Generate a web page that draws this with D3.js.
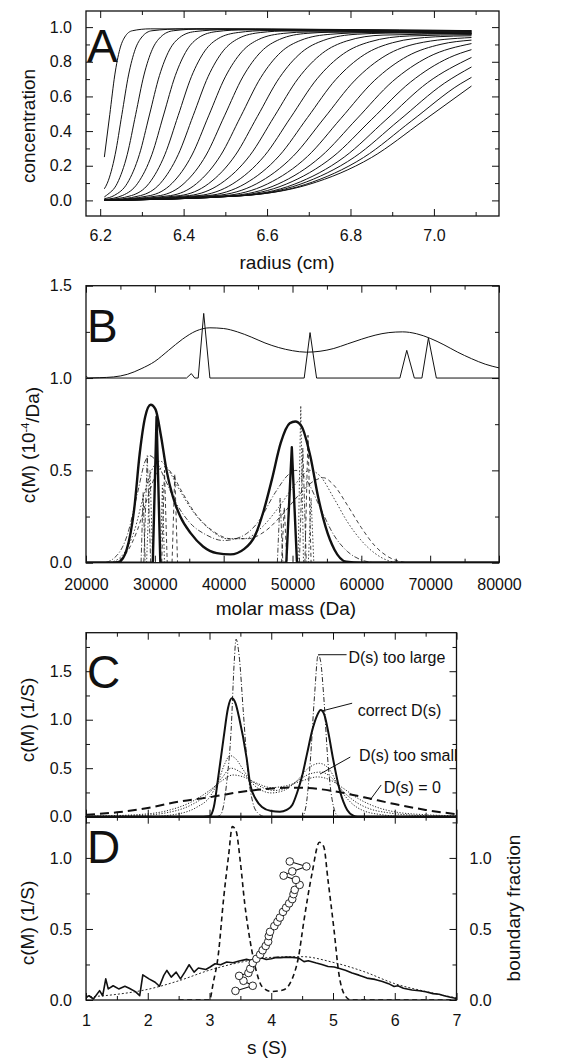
<!DOCTYPE html>
<html>
  <head>
    <meta charset="utf-8">
    <title>Sedimentation profiles and c(M) / c(s) distributions</title>
    <script src="https://cdn.jsdelivr.net/npm/d3@7"></script>
    <style>
      body { margin: 0; background: #fff; }
      svg text { font-family: "Liberation Sans", Arial, Helvetica, sans-serif; fill: #111; }
    </style>
  </head>
  <body>
    <script>
      // ---- panel A: radial scans (radius cm, concentration) ----
      var radialScans = [
        [[6.21,0.25],[6.223,0.495],[6.235,0.724],[6.247,0.872],[6.259,0.943],[6.277,0.979],[6.32,0.99],[6.7,0.985],[7.09,0.98]],
        [[6.21,0.067],[6.217,0.099],[6.236,0.266],[6.252,0.495],[6.268,0.724],[6.284,0.872],[6.3,0.943],[6.324,0.979],[6.4,0.99],[7.09,0.98]],
        [[6.21,0.02],[6.215,0.029],[6.241,0.099],[6.265,0.266],[6.285,0.495],[6.305,0.724],[6.325,0.872],[6.345,0.943],[6.375,0.979],[6.45,0.99],[7.09,0.975]],
        [[6.21,0.01],[6.234,0.029],[6.265,0.099],[6.294,0.265],[6.318,0.493],[6.342,0.72],[6.366,0.868],[6.39,0.939],[6.426,0.974],[6.5,0.985],[7.09,0.975]],
        [[6.21,0.005],[6.254,0.029],[6.29,0.099],[6.324,0.265],[6.352,0.493],[6.38,0.72],[6.408,0.868],[6.436,0.939],[6.478,0.974],[6.55,0.985],[7.09,0.97]],
        [[6.21,0.003],[6.275,0.028],[6.317,0.098],[6.355,0.264],[6.387,0.49],[6.419,0.716],[6.451,0.863],[6.483,0.934],[6.531,0.969],[6.6,0.98],[7.09,0.97]],
        [[6.21,0],[6.297,0.028],[6.344,0.098],[6.387,0.264],[6.423,0.49],[6.459,0.716],[6.495,0.863],[6.531,0.934],[6.585,0.969],[6.65,0.978],[7.09,0.965]],
        [[6.21,0],[6.32,0.028],[6.372,0.098],[6.42,0.262],[6.46,0.488],[6.5,0.713],[6.54,0.859],[6.58,0.929],[6.64,0.964],[6.7,0.972],[7.09,0.965]],
        [[6.21,0],[6.344,0.028],[6.401,0.098],[6.454,0.262],[6.498,0.488],[6.542,0.713],[6.586,0.859],[6.63,0.929],[6.696,0.964],[6.8,0.973],[7.09,0.96]],
        [[6.21,0],[6.369,0.028],[6.431,0.097],[6.489,0.261],[6.537,0.485],[6.585,0.709],[6.633,0.855],[6.681,0.924],[6.753,0.959],[6.85,0.968],[7.09,0.96]],
        [[6.21,0],[6.392,0.028],[6.46,0.097],[6.524,0.261],[6.577,0.485],[6.63,0.709],[6.683,0.855],[6.736,0.924],[6.816,0.959],[6.95,0.968],[7.09,0.965]],
        [[6.21,0],[6.414,0.028],[6.489,0.097],[6.559,0.26],[6.617,0.483],[6.675,0.705],[6.733,0.85],[6.791,0.92],[6.878,0.954],[7.09,0.962]],
        [[6.21,0],[6.437,0.028],[6.518,0.096],[6.594,0.258],[6.657,0.48],[6.72,0.702],[6.783,0.846],[6.846,0.915],[6.941,0.949],[7.09,0.956]],
        [[6.21,0],[6.459,0.028],[6.547,0.096],[6.629,0.257],[6.697,0.478],[6.765,0.698],[6.833,0.841],[6.901,0.91],[7.003,0.944],[7.09,0.95]],
        [[6.21,0],[6.478,0.028],[6.574,0.095],[6.663,0.256],[6.737,0.475],[6.811,0.694],[6.885,0.837],[6.959,0.905],[7.09,0.94]],
        [[6.21,0],[6.497,0.027],[6.601,0.095],[6.697,0.254],[6.777,0.473],[6.857,0.691],[6.937,0.833],[7.017,0.901],[7.09,0.925]],
        [[6.21,0],[6.514,0.027],[6.626,0.094],[6.729,0.253],[6.815,0.47],[6.901,0.687],[6.987,0.828],[7.09,0.905]],
        [[6.21,0],[6.526,0.027],[6.646,0.094],[6.758,0.252],[6.851,0.468],[6.944,0.683],[7.037,0.824],[7.09,0.87]],
        [[6.21,0],[6.535,0.027],[6.665,0.093],[6.785,0.25],[6.885,0.465],[6.985,0.68],[7.09,0.825]],
        [[6.21,0],[6.539,0.027],[6.679,0.093],[6.809,0.249],[6.917,0.463],[7.025,0.676],[7.09,0.77]],
        [[6.21,0],[6.541,0.027],[6.692,0.092],[6.831,0.247],[6.947,0.46],[7.063,0.672],[7.09,0.71]],
        [[6.21,0],[6.538,0.027],[6.7,0.092],[6.85,0.247],[6.975,0.46],[7.09,0.66]]
      ];

      // ---- panel B: c(M) in 1e-4/Da vs molar mass (Da) ----
      // upper traces are drawn offset by +1.0
      var bOffset = 1.0;
      var bBroad = [[20000,0.012],[20400,0],[22000,0.002],[24000,0.006],[26000,0.02],[28000,0.05],[30000,0.09],[32000,0.15],
        [34000,0.21],[36000,0.255],[38000,0.272],[40000,0.268],[42000,0.25],[44000,0.222],[46000,0.19],[48000,0.165],
        [50000,0.148],[52000,0.14],[54000,0.145],[56000,0.16],[58000,0.185],[60000,0.21],[62000,0.232],[64000,0.246],
        [66000,0.25],[68000,0.24],[70000,0.215],[72000,0.18],[74000,0.14],[76000,0.105],[78000,0.075],[80000,0.055]];
      var bDiscrete = [[20000,0],[34600,0],[35300,0.024],[35800,0],[36300,0],[37100,0.35],[38000,0],[51700,0],[52550,0.246],
        [53500,0],[65600,0],[66600,0.15],[67700,0],[68800,0],[69750,0.217],[70900,0],[80000,0]];
      var bCorrect = [[20000,0],[24000,0],[24800,0.005],[25900,0.07],[27000,0.29],[27800,0.59],[28600,0.79],[29400,0.855],
        [30100,0.83],[30900,0.685],[31700,0.5],[32600,0.36],[33700,0.25],[35200,0.16],[37000,0.088],[39000,0.052],
        [41000,0.045],[43000,0.075],[44600,0.15],[45800,0.28],[47000,0.45],[48300,0.65],[49600,0.755],[50400,0.765],
        [51300,0.74],[52600,0.575],[53700,0.36],[54800,0.195],[56100,0.07],[57800,0.005],[60000,0],[80000,0]];
      var bCorrectSpikes = [[20000,0],[29700,0],[30250,0.79],[30800,0],[49100,0],[49900,0.625],[50650,0],[80000,0]];
      var bDashDot = [[20000,0],[22500,0],[24500,0.04],[26000,0.15],[27500,0.38],[28600,0.55],[29200,0.58],[30000,0.56],
        [31500,0.45],[33000,0.33],[35000,0.22],[37500,0.15],[40000,0.12],[42500,0.14],[45000,0.22],[47500,0.38],
        [49500,0.48],[50500,0.5],[52000,0.45],[54000,0.3],[56000,0.15],[58000,0.06],[60000,0.015],[62000,0]];
      var bDotted = [[23500,0],[25500,0.05],[27000,0.17],[28500,0.38],[29800,0.52],[30800,0.55],[32000,0.5],[33500,0.4],
        [35500,0.28],[38000,0.18],[40500,0.13],[43000,0.13],[45500,0.19],[48000,0.3],[50500,0.43],[52500,0.5],
        [54000,0.47],[56000,0.35],[58000,0.22],[60000,0.12],[62000,0.05],[64000,0.01],[65500,0]];
      var bDashed = [[24000,0],[26000,0.06],[27500,0.18],[29000,0.36],[30500,0.5],[31500,0.52],[32500,0.48],[34000,0.38],
        [36000,0.26],[38500,0.17],[41000,0.13],[43500,0.13],[46000,0.17],[48500,0.26],[51000,0.37],[53000,0.44],
        [54500,0.46],[56000,0.42],[58000,0.31],[60000,0.19],[62000,0.09],[64000,0.03],[66500,0]];
      // narrow peaks of the other fits, each [start, top, end]
      var bThinSpikes = [
        [[28000,0],[28300,0.38],[28600,0]], [[28400,0],[28900,0.58],[29400,0]], [[28800,0],[29300,0.5],[29700,0]],
        [[30800,0],[31100,0.42],[31400,0]], [[31000,0],[31400,0.5],[31800,0]], [[32500,0],[32900,0.48],[33300,0]],
        [[47800,0],[48200,0.35],[48600,0]], [[48400,0],[48800,0.3],[49200,0]], [[50800,0],[51200,0.85],[51600,0]],
        [[51000,0],[51500,0.62],[52000,0]], [[51800,0],[52250,0.69],[52700,0]], [[52300,0],[52700,0.35],[53100,0]]
      ];
      var bSpikeDash = ["5,2,1,2", "5,2,1,2", "1.5,2", "1.5,2", "4,3", "4,3", "5,2,1,2", "4,3", "1.5,2", "5,2,1,2", "4,3", "1.5,2"];

      // ---- panel C: c(s) for different D(s) ----
      var cTooLarge = [[1,0],[3.1,0],[3.18,0.02],[3.28,0.36],[3.35,0.89],[3.4,1.59],[3.43,1.83],[3.48,1.66],[3.55,1.06],
        [3.62,0.47],[3.7,0.15],[3.78,0.04],[3.9,0],[4.5,0],[4.56,0.1],[4.63,0.55],[4.7,1.24],[4.76,1.67],[4.8,1.6],
        [4.85,1.24],[4.92,0.55],[5.01,0.1],[5.09,0],[7,0]];
      var cCorrect = [[1,0],[2.9,0],[3.0,0.005],[3.07,0.1],[3.14,0.4],[3.23,0.82],[3.3,1.12],[3.36,1.22],[3.42,1.17],
        [3.48,1.02],[3.6,0.61],[3.66,0.33],[3.75,0.18],[3.85,0.1],[4.0,0.058],[4.14,0.05],[4.25,0.07],[4.34,0.12],
        [4.42,0.25],[4.5,0.42],[4.58,0.65],[4.66,0.88],[4.74,1.04],[4.8,1.1],[4.86,1.05],[4.93,0.85],[5.0,0.6],
        [5.11,0.27],[5.23,0.07],[5.33,0.01],[5.4,0],[7,0]];
      var cTooSmall = [
        [[1,0],[2.0,0],[2.5,0.03],[2.8,0.1],[3.0,0.2],[3.15,0.38],[3.25,0.55],[3.33,0.63],[3.42,0.6],[3.55,0.48],[3.7,0.34],
          [3.85,0.27],[4.0,0.245],[4.2,0.27],[4.4,0.36],[4.6,0.5],[4.78,0.55],[4.95,0.48],[5.1,0.3],[5.3,0.14],[5.5,0.06],
          [5.8,0.02],[6.2,0],[7,0]],
        [[1,0.002],[1.8,0.01],[2.3,0.04],[2.7,0.12],[3.0,0.25],[3.2,0.4],[3.35,0.5],[3.5,0.46],[3.7,0.36],[3.9,0.29],
          [4.05,0.27],[4.25,0.3],[4.45,0.38],[4.62,0.44],[4.8,0.46],[4.98,0.4],[5.15,0.27],[5.35,0.16],[5.6,0.08],
          [5.9,0.04],[6.3,0.015],[7,0.003]],
        [[1,0.005],[1.8,0.02],[2.3,0.06],[2.7,0.15],[3.0,0.27],[3.2,0.37],[3.38,0.43],[3.55,0.41],[3.75,0.35],[4.0,0.3],
          [4.25,0.32],[4.5,0.37],[4.75,0.41],[4.95,0.38],[5.15,0.3],[5.4,0.19],[5.7,0.1],[6.0,0.05],[6.5,0.02],[7,0.01]]
      ];
      var cZero = [[1,0.02],[1.5,0.045],[2,0.09],[2.5,0.155],[3,0.2],[3.5,0.255],[4,0.29],[4.3,0.3],[4.6,0.295],
        [5,0.265],[5.5,0.2],[6,0.13],[6.5,0.07],[7,0.025]];
      var cLabels = ["D(s) too large", "correct D(s)", "D(s) too small", "D(s) = 0"];

      // ---- panel D: noisy c(s), fits and boundary fraction ----
      var dNoisy = [[1,0.02],[1.05,0.03],[1.12,0.007],[1.22,0.066],[1.27,0.03],[1.32,0.149],[1.36,0.078],[1.44,0.1],
        [1.53,0.078],[1.63,0.097],[1.7,0.083],[1.8,0.059],[1.87,0.031],[1.92,0.177],[2.02,0.149],[2.12,0.125],
        [2.19,0.097],[2.26,0.173],[2.31,0.208],[2.38,0.161],[2.46,0.196],[2.53,0.149],[2.6,0.196],[2.67,0.248],
        [2.75,0.196],[2.82,0.225],[2.94,0.215],[3.01,0.232],[3.09,0.255],[3.18,0.248],[3.28,0.267],[3.38,0.262],
        [3.48,0.274],[3.6,0.286],[3.66,0.28],[3.75,0.29],[3.85,0.296],[3.92,0.285],[4.0,0.29],[4.08,0.3],[4.15,0.298],
        [4.25,0.302],[4.34,0.3],[4.44,0.296],[4.53,0.27],[4.6,0.276],[4.73,0.26],[4.82,0.25],[4.92,0.236],[5.02,0.232],
        [5.12,0.22],[5.2,0.21],[5.31,0.19],[5.42,0.175],[5.55,0.154],[5.68,0.145],[5.8,0.13],[5.9,0.115],[5.99,0.095],
        [6.05,0.1],[6.14,0.083],[6.28,0.07],[6.4,0.065],[6.5,0.058],[6.62,0.045],[6.72,0.04],[6.8,0.03],[6.9,0.02],[7,0.01]];
      var dSmooth = [[1,0.02],[1.5,0.04],[2,0.075],[2.5,0.135],[3,0.21],[3.5,0.265],[4,0.3],[4.5,0.305],[5,0.265],
        [5.5,0.2],[6,0.115],[6.5,0.06],[7,0.015]];
      var dDashed = [[2.5,0],[3.0,0],[3.06,0.12],[3.14,0.31],[3.23,0.72],[3.31,1.02],[3.37,1.22],[3.43,1.19],[3.5,0.97],
        [3.57,0.68],[3.66,0.41],[3.76,0.2],[3.85,0.095],[4.0,0.06],[4.19,0.07],[4.34,0.15],[4.44,0.3],[4.53,0.56],
        [4.66,0.89],[4.78,1.11],[4.85,1.08],[4.92,0.84],[5.02,0.48],[5.09,0.2],[5.19,0.035],[5.29,0],[7,0]];
      var dBoundary = [[3.42,0.064],[3.7,0.1],[3.55,0.135],[3.48,0.17],[3.63,0.19],[3.66,0.22],[3.7,0.26],[3.76,0.29],
        [3.82,0.32],[3.86,0.35],[3.91,0.38],[3.95,0.41],[3.96,0.45],[3.98,0.48],[4.05,0.52],[4.1,0.55],[4.14,0.58],
        [4.19,0.62],[4.24,0.65],[4.29,0.68],[4.34,0.71],[4.36,0.745],[4.38,0.775],[4.46,0.81],[4.4,0.845],[4.2,0.875],
        [4.34,0.905],[4.57,0.94],[4.3,0.975]];

      var ink = "#111";

      var svg = d3.select("body").append("svg")
        .attr("width", 584)
        .attr("height", 1062);

      // scales, fitted to the frames of the four panels
      var xA = d3.scaleLinear().domain([6.166, 7.156]).range([86, 499]),
        yA = d3.scaleLinear().domain([-0.09, 1.093]).range([216, 11]);
      var xB = d3.scaleLinear().domain([20000, 80000]).range([86, 499]),
        yB = d3.scaleLinear().domain([0, 1.5]).range([562.7, 285.7]);
      var xC = d3.scaleLinear().domain([1, 7]).range([86, 456.5]),
        yC = d3.scaleLinear().domain([0, 1.897]).range([816.7, 632.7]);
      var yD = d3.scaleLinear().domain([0, 1.29]).range([1000, 816.7]);

      // one set of inward ticks along one side
      function ticks(g, axis, values, size, transform, format, pad) {
        var a = g.append("g")
          .attr("transform", transform)
          .call(axis.tickValues(values).tickSize(-size).tickPadding(pad || 0).tickFormat(format || ""));
        a.select(".domain").remove();
        a.attr("font-size", 16).attr("font-family", null);
        a.selectAll("line").attr("stroke", ink).attr("stroke-width", 1);
        return a;
      }

      function panel(id, x, y, o) {
        var L = x.range()[0], R = x.range()[1], B = y.range()[0], T = y.range()[1];
        var g = svg.append("g").attr("id", id);

        g.append("clipPath").attr("id", id + "-clip")
          .append("rect").attr("x", L).attr("y", T).attr("width", R - L).attr("height", B - T);

        ticks(g, d3.axisBottom(x), o.xMajor, 7, "translate(0," + B + ")", o.xFormat, o.xPad);
        ticks(g, d3.axisBottom(x), o.xMinor, 4, "translate(0," + B + ")");
        ticks(g, d3.axisTop(x), o.xMajor, 7, "translate(0," + T + ")");
        ticks(g, d3.axisTop(x), o.xMinor, 4, "translate(0," + T + ")");
        ticks(g, d3.axisLeft(y), o.yMajor, 7, "translate(" + L + ",0)", o.yFormat, 14);
        ticks(g, d3.axisLeft(y), o.yMinor, 4, "translate(" + L + ",0)");
        ticks(g, d3.axisRight(y), o.yMajor, 7, "translate(" + R + ",0)", o.yRightFormat, 13);
        ticks(g, d3.axisRight(y), o.yMinor, 4, "translate(" + R + ",0)");

        var plot = g.append("g").attr("clip-path", "url(#" + id + "-clip)");

        g.append("rect")
          .attr("x", L).attr("y", T).attr("width", R - L).attr("height", B - T)
          .attr("fill", "none").attr("stroke", ink).attr("stroke-width", 1.3);

        // big panel letter
        g.append("text")
          .attr("x", L + 1).attr("y", o.letterY)
          .attr("font-size", 46)
          .text(o.letter);

        return plot;
      }

      function yTitle(x, y, txt) {
        return svg.append("text")
          .attr("transform", "translate(" + x + "," + y + ") rotate(-90)")
          .attr("text-anchor", "middle")
          .attr("dy", "0.35em")
          .attr("font-size", 19)
          .text(txt);
      }

      function xTitle(x, y, txt) {
        svg.append("text")
          .attr("x", x).attr("y", y)
          .attr("text-anchor", "middle")
          .attr("dy", "0.35em")
          .attr("font-size", 19)
          .text(txt);
      }

      function draw(plot, data, x, y, curve, width, dash) {
        var line = d3.line()
          .x(function(d) { return x(d[0]); })
          .y(function(d) { return y(d[1]); })
          .curve(curve);
        return plot.append("path")
          .datum(data)
          .attr("d", line)
          .attr("fill", "none")
          .attr("stroke", ink)
          .attr("stroke-width", width)
          .attr("stroke-dasharray", dash || null)
          .attr("stroke-linejoin", "round");
      }

      var f1 = d3.format(".1f");

      // ---------- A ----------
      var plotA = panel("panelA", xA, yA, {
        xMajor: [6.2, 6.4, 6.6, 6.8, 7.0], xMinor: [6.3, 6.5, 6.7, 6.9, 7.1], xFormat: f1, xPad: 14,
        yMajor: [0, 0.2, 0.4, 0.6, 0.8, 1.0], yMinor: [0.1, 0.3, 0.5, 0.7, 0.9], yFormat: f1,
        letter: "A", letterY: 62
      });
      radialScans.forEach(function(scan) {
        draw(plotA, scan, xA, yA, d3.curveMonotoneX, 1);
      });
      yTitle(28, 126, "concentration");
      xTitle(287, 262, "radius (cm)");

      // ---------- B ----------
      var plotB = panel("panelB", xB, yB, {
        xMajor: [20000, 30000, 40000, 50000, 60000, 70000, 80000], xMinor: [25000, 35000, 45000, 55000, 65000, 75000],
        xFormat: d3.format("d"), xPad: 16,
        yMajor: [0, 0.5, 1.0, 1.5], yMinor: [0.25, 0.75, 1.25], yFormat: f1,
        letter: "B", letterY: 342
      });
      var yBoff = function(v) { return yB(v + bOffset); };
      draw(plotB, bBroad, xB, yBoff, d3.curveMonotoneX, 1);
      draw(plotB, bDiscrete, xB, yBoff, d3.curveLinear, 1);
      draw(plotB, bDashDot, xB, yB, d3.curveMonotoneX, 0.8, "5,2,1,2");
      draw(plotB, bDotted, xB, yB, d3.curveMonotoneX, 0.8, "1.5,2");
      draw(plotB, bDashed, xB, yB, d3.curveMonotoneX, 0.8, "4,3");
      bThinSpikes.forEach(function(s, i) {
        draw(plotB, s, xB, yB, d3.curveLinear, 0.8, bSpikeDash[i]);
      });
      draw(plotB, bCorrect, xB, yB, d3.curveMonotoneX, 2.4);
      draw(plotB, bCorrectSpikes, xB, yB, d3.curveLinear, 2.4);

      var tB = yTitle(28, 445, "");
      tB.append("tspan").text("c(M) (10");
      tB.append("tspan").attr("dy", "-0.55em").attr("font-size", 11).text("-4");
      tB.append("tspan").attr("dy", "0.55em").text("/Da)");
      xTitle(286, 608, "molar mass (Da)");

      // ---------- C ----------
      var plotC = panel("panelC", xC, yC, {
        xMajor: [1, 2, 3, 4, 5, 6, 7], xMinor: [1.5, 2.5, 3.5, 4.5, 5.5, 6.5], xFormat: "", xPad: 0,
        yMajor: [0, 0.5, 1.0, 1.5], yMinor: [0.25, 0.75, 1.25, 1.75], yFormat: f1,
        letter: "C", letterY: 688
      });
      cTooSmall.forEach(function(c) {
        draw(plotC, c, xC, yC, d3.curveMonotoneX, 0.9, "1.2,1.6");
      });
      draw(plotC, cZero, xC, yC, d3.curveMonotoneX, 2, "9,5");
      draw(plotC, cTooLarge, xC, yC, d3.curveMonotoneX, 0.9, "5,2,1,2");
      draw(plotC, cCorrect, xC, yC, d3.curveMonotoneX, 2);

      // labels with leader lines: from [s, c] -> to [s, c], text at [s, c]
      var cLeaders = [
        [[4.76, 1.67], [5.22, 1.67], [5.25, 1.64]],
        [[4.82, 1.09], [5.31, 1.17], [5.4, 1.1]],
        [[4.79, 0.44], [5.28, 0.615], [5.42, 0.63]],
        [[5.6, 0.172], [5.78, 0.327], [5.82, 0.3]]
      ];
      cLeaders.forEach(function(l, i) {
        plotC.append("line")
          .attr("x1", xC(l[0][0])).attr("y1", yC(l[0][1]))
          .attr("x2", xC(l[1][0])).attr("y2", yC(l[1][1]))
          .attr("stroke", ink).attr("stroke-width", 1);
        plotC.append("text")
          .attr("x", xC(l[2][0])).attr("y", yC(l[2][1]))
          .attr("dy", "0.35em")
          .attr("font-size", 16)
          .text(cLabels[i]);
      });
      yTitle(27, 720, "c(M) (1/S)");

      // ---------- D ----------
      var plotD = panel("panelD", xC, yD, {
        xMajor: [1, 2, 3, 4, 5, 6, 7], xMinor: [1.5, 2.5, 3.5, 4.5, 5.5, 6.5], xFormat: d3.format("d"), xPad: 15,
        yMajor: [0, 0.5, 1.0], yMinor: [0.25, 0.75, 1.25], yFormat: f1, yRightFormat: f1,
        letter: "D", letterY: 863
      });
      draw(plotD, dSmooth, xC, yD, d3.curveMonotoneX, 0.9, "2,2");
      draw(plotD, dDashed, xC, yD, d3.curveMonotoneX, 1.6, "5,3.5");
      draw(plotD, dNoisy, xC, yD, d3.curveLinear, 1.6);
      draw(plotD, dBoundary, xC, yD, d3.curveLinear, 1.1);
      plotD.selectAll("circle")
        .data(dBoundary)
        .enter().append("circle")
          .attr("cx", function(d) { return xC(d[0]); })
          .attr("cy", function(d) { return yD(d[1]); })
          .attr("r", 3.8)
          .attr("fill", "#fff")
          .attr("stroke", ink)
          .attr("stroke-width", 0.9);

      // shared border between C and D is drawn heavier
      svg.append("line")
        .attr("x1", xC.range()[0]).attr("x2", xC.range()[1])
        .attr("y1", yD.range()[1]).attr("y2", yD.range()[1])
        .attr("stroke", ink).attr("stroke-width", 2.4);

      yTitle(27, 923, "c(M) (1/S)");
      svg.append("text")
        .attr("transform", "translate(513,908) rotate(-90)")
        .attr("text-anchor", "middle")
        .attr("dy", "0.35em")
        .attr("font-size", 19)
        .text("boundary fraction");
      xTitle(267, 1047, "s (S)");
    </script>
  </body>
</html>
